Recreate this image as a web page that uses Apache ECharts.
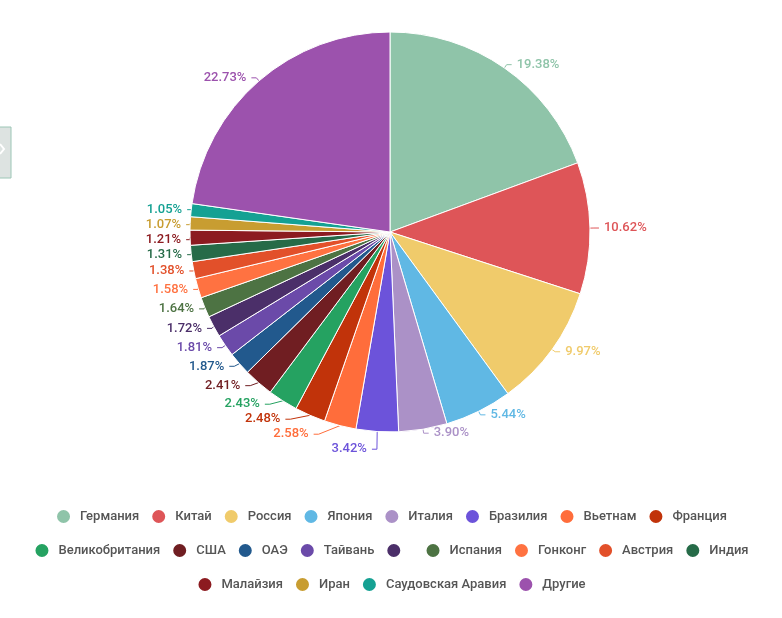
<!DOCTYPE html>
<html><head><meta charset="utf-8">
<script src="https://cdn.jsdelivr.net/npm/echarts@6/dist/echarts.min.js"></script>
<style>html,body{margin:0;padding:0;background:#fff}#c{width:782px;height:618px}</style>
</head><body><div id="c"></div>
<script>
const names = ['Германия','Китай','Россия','Япония','Италия','Бразилия','Вьетнам','Франция','Великобритания','США','ОАЭ','Тайвань',' ','Испания','Гонконг','Австрия','Индия','Малайзия','Иран','Саудовская Аравия','Другие'];
const values = [19.38,10.62,9.97,5.44,3.90,3.42,2.58,2.48,2.43,2.41,1.87,1.81,1.72,1.64,1.58,1.38,1.31,1.21,1.07,1.05,22.73];
const colors = ['#8fc4a9','#de5558','#f0cb6b','#60b8e4','#ab91c7','#6c53da','#ff6d3b','#c1330a','#25a261','#701e22','#22598d','#6b4aa9','#4b2f69','#4d7343','#ff7241','#e2502a','#266b48','#8c1b20','#c89d31','#15a193','#9c52ad'];
const legendRows = [names.slice(0,8), names.slice(8,17), names.slice(17)];
const legendTops = [503, 537, 571];

const chart = echarts.init(document.getElementById('c'));
const data = names.map((n,i)=>({name:n, value:values[i], itemStyle:{color:colors[i]}, label:{color:colors[i]}, labelLine:{lineStyle:{color:colors[i]}}}));
chart.setOption({
  animation:false,
  textStyle:{fontFamily:'Roboto'},
  legend: legendRows.map((r,i)=>({
    data:r, top:legendTops[i], left:'center', icon:'circle', itemWidth:15, itemHeight:15, itemGap:11,
    textStyle:{color:'#555', fontSize:13, fontWeight:500, fontFamily:'Roboto', padding:[0,0,0,4]}
  })),
  graphic:[
    {type:'rect', shape:{x:-2,y:127,width:13,height:51}, style:{fill:'#dde3e1', stroke:'#9cc6b6', lineWidth:1}},
    {type:'polyline', shape:{points:[[0,144],[4,149],[0,154]]}, style:{stroke:'#fff', lineWidth:2, fill:null}}
  ],
  series:[{
    type:'pie', center:[390,232], radius:[0,200], startAngle:90, clockwise:true,
    itemStyle:{borderColor:'#fff', borderWidth:1},
    label:{show:true, position:'outside', fontSize:13, fontWeight:500, fontFamily:'Roboto',
      formatter:p=>p.value.toFixed(2)+'%'},
    labelLine:{show:true, length:4, length2:5, lineStyle:{width:1}},
    data:data
  }]
});
</script></body></html>
